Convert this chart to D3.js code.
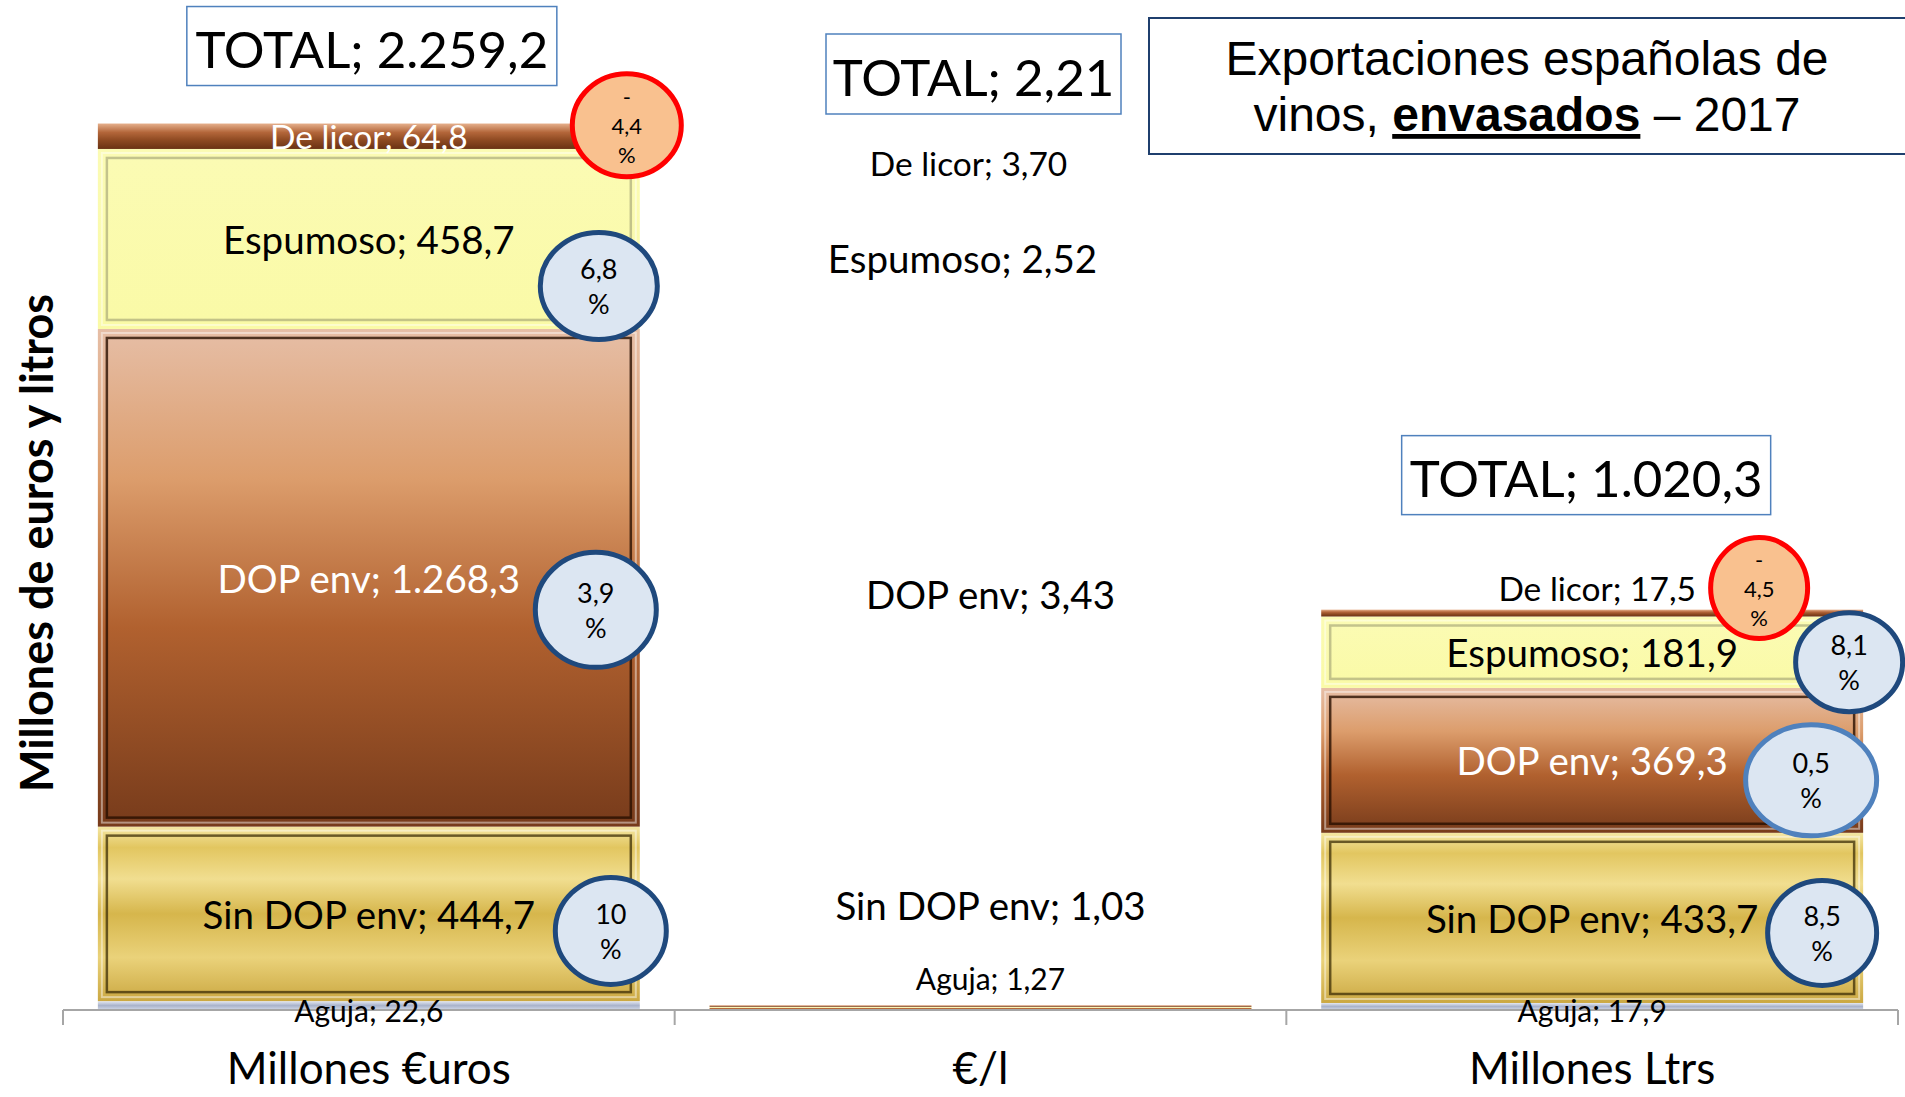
<!DOCTYPE html>
<html>
<head>
<meta charset="utf-8">
<script src="https://cdn.jsdelivr.net/npm/d3@7"></script>
<style>
  body { margin: 0; background: #fff; }
  svg { display: block; font-family: Lato, "Noto Sans", sans-serif; }
</style>
</head>
<body>
<div id="chart"></div>
<script>
// categories on the x axis
var categories = ["Millones €uros", "€/l", "Millones Ltrs"];
// stacked series, bottom to top
var series = ["Aguja", "Sin DOP env", "DOP env", "Espumoso", "De licor"];
var euros  = [22.6, 444.7, 1268.3, 458.7, 64.8];
var precio = [1.27, 1.03, 3.43, 2.52, 3.70];
var litros = [17.9, 433.7, 369.3, 181.9, 17.5];
// printed labels (Spanish number format)
var eurosLabels  = ["22,6", "444,7", "1.268,3", "458,7", "64,8"];
var precioLabels = ["1,27", "1,03", "3,43", "2,52", "3,70"];
var litrosLabels = ["17,9", "433,7", "369,3", "181,9", "17,5"];
var totalLabels  = ["2.259,2", "2,21", "1.020,3"];
// variation vs previous year (%), euros and litres
var varEuros  = ["", "10", "3,9", "6,8", "-4,4"];
var varLitros = ["", "8,5", "0,5", "8,1", "-4,5"];

var width = 1905, height = 1097;

var svg = d3.select("#chart").append("svg")
    .attr("width", width)
    .attr("height", height);

// scales
var x = d3.scaleBand()
    .domain(categories)
    .range([63, 1898])
    .paddingInner(0.114)
    .paddingOuter(0.057);
var xb = d3.scaleBand()
    .domain(categories)
    .range([63, 1898]);
var y = d3.scaleLinear()
    .domain([0, 2500])
    .range([1010, 29]);

var values = [euros, precio, litros];
var labels = [eurosLabels, precioLabels, litrosLabels];

var rows = categories.map(function(c, i) {
  var o = {cat: c};
  series.forEach(function(s, j) { o[s] = values[i][j]; });
  return o;
});
var stack = d3.stack().keys(series)(rows);

// fills
var grads = {
  "Aguja":       [[0, "#e4e8f2"], [0.5, "#a9b3cb"], [1, "#d3d9e8"]],
  "Sin DOP env": [[0, "#f4e6a2"], [0.12, "#e2c660"], [0.3, "#f1de90"], [0.5, "#d6b64c"], [0.75, "#ead27a"], [1, "#cba842"]],
  "DOP env":     [[0, "#e6bea6"], [0.3, "#dc9d6c"], [0.6, "#b1612f"], [1, "#773b1b"]],
  "Espumoso":    [[0, "#fbfbb4"], [1, "#fafaa6"]],
  "De licor":    [[0, "#e6b08c"], [0.35, "#b3663a"], [0.65, "#8e4a22"], [1, "#6a3214"]]
};
var frameCol = {
  "Aguja": null,
  "Sin DOP env": "rgba(60,45,5,0.75)",
  "DOP env": "rgba(40,15,0,0.8)",
  "Espumoso": "rgba(150,150,110,0.55)",
  "De licor": null
};

var defs = svg.append("defs");
series.forEach(function(s, j) {
  var g = defs.append("linearGradient")
      .attr("id", "g" + j)
      .attr("x1", 0).attr("y1", 0).attr("x2", 0).attr("y2", 1);
  grads[s].forEach(function(st) {
    g.append("stop").attr("offset", st[0]).attr("stop-color", st[1]);
  });
});

// bars
var layer = svg.selectAll(".layer")
    .data(stack)
  .enter().append("g")
    .attr("class", "layer");

layer.selectAll("rect")
    .data(function(d) { return d.map(function(p) { return {p: p, key: d.key, j: d.index}; }); })
  .enter().append("rect")
    .attr("x", function(d) { return x(d.p.data.cat); })
    .attr("width", x.bandwidth())
    .attr("y", function(d) { return y(d.p[1]); })
    .attr("height", function(d) { return y(d.p[0]) - y(d.p[1]); })
    .attr("fill", function(d) { return "url(#g" + d.j + ")"; });

// bevel frame inside the big segments
function bigSegs(d) {
  return d.map(function(p) { return {p: p, key: d.key}; })
    .filter(function(e) { return frameCol[e.key] && y(e.p[0]) - y(e.p[1]) > 30; });
}
layer.selectAll(".frame")
    .data(bigSegs)
  .enter().append("rect")
    .attr("x", function(d) { return x(d.p.data.cat) + 9; })
    .attr("width", x.bandwidth() - 18)
    .attr("y", function(d) { return y(d.p[1]) + 9; })
    .attr("height", function(d) { return y(d.p[0]) - y(d.p[1]) - 18; })
    .attr("fill", "none")
    .attr("stroke", function(d) { return frameCol[d.key]; })
    .attr("stroke-width", 2.5);

layer.selectAll(".hl")
    .data(bigSegs)
  .enter().append("rect")
    .attr("x", function(d) { return x(d.p.data.cat) + 4; })
    .attr("width", x.bandwidth() - 8)
    .attr("y", function(d) { return y(d.p[1]) + 4; })
    .attr("height", function(d) { return y(d.p[0]) - y(d.p[1]) - 8; })
    .attr("fill", "none")
    .attr("stroke", "rgba(255,255,255,0.45)")
    .attr("stroke-width", 2);

// x axis
var axisY = y(0);
svg.append("line")
    .attr("x1", xb.range()[0]).attr("x2", xb.range()[1])
    .attr("y1", axisY).attr("y2", axisY)
    .attr("stroke", "#a6a6a6").attr("stroke-width", 2);
var bounds = categories.map(function(c) { return xb(c); }).concat([xb.range()[1]]);
svg.selectAll(".tick")
    .data(bounds)
  .enter().append("line")
    .attr("x1", function(d) { return d; }).attr("x2", function(d) { return d; })
    .attr("y1", axisY).attr("y2", axisY + 15)
    .attr("stroke", "#a6a6a6").attr("stroke-width", 2);
svg.selectAll(".cat")
    .data(categories)
  .enter().append("text")
    .attr("x", function(d) { return xb(d) + xb.bandwidth() / 2; })
    .attr("y", 1084)
    .attr("text-anchor", "middle")
    .attr("font-size", 44)
    .text(function(d) { return d; });

// y axis title
svg.append("text")
    .attr("transform", "translate(36,543) rotate(-90)")
    .attr("text-anchor", "middle")
    .attr("dominant-baseline", "central")
    .attr("font-size", 45)
    .attr("font-weight", 700)
    .text("Millones de euros y litros");

// segment labels
var fontOf = [30, 38.5, 38.5, 38.5, 33.5];
// middle column labels follow the euros segments with a nudge
var midDy = [-28, -9, 16, 19, 27];
var midDx = [10, 10, 10, -18, -12];
var whiteLab = [[false, false, true, false, true], [false, false, false, false, false], [false, false, true, false, false]];

var segLabels = [];
stack.forEach(function(layerData, j) {
  layerData.forEach(function(p, i) {
    var cx = x(categories[i]) + x.bandwidth() / 2;
    var cy = y((p[0] + p[1]) / 2);
    if (i === 1) {
      var pe = stack[j][0];
      cy = y((pe[0] + pe[1]) / 2) + midDy[j];
      cx += midDx[j];
    }
    if (i === 2 && j === 4) { cy -= 25; cx += 5; }
    if (j === 0 && i !== 1) { cy = y(0); }
    segLabels.push({
      x: cx, y: cy,
      text: series[j] + "; " + labels[i][j],
      size: fontOf[j],
      fill: whiteLab[i][j] ? "#ffffff" : "#000000"
    });
  });
});

svg.selectAll(".seglab")
    .data(segLabels)
  .enter().append("text")
    .attr("x", function(d) { return d.x; })
    .attr("y", function(d) { return d.y; })
    .attr("text-anchor", "middle")
    .attr("dominant-baseline", "central")
    .attr("font-size", function(d) { return d.size; })
    .attr("fill", function(d) { return d.fill; })
    .text(function(d) { return d.text; });

// total boxes
var totalBoxes = [
  {dx: 3, top: -117, w: 370, h: 79},
  {dx: -7, top: null, w: 295, h: 80},
  {dx: -6, top: -174, w: 369, h: 79}
];
totalBoxes.forEach(function(b, i) {
  var cx = x(categories[i]) + x.bandwidth() / 2 + b.dx;
  var sum = d3.sum(values[i]);
  var yTop = b.top === null ? 34 : y(sum) + b.top;
  var g = svg.append("g");
  g.append("rect")
      .attr("x", cx - b.w / 2).attr("y", yTop)
      .attr("width", b.w).attr("height", b.h)
      .attr("fill", "#fff")
      .attr("stroke", "#4f81bd").attr("stroke-width", 1.5);
  g.append("text")
      .attr("x", cx).attr("y", yTop + b.h / 2 + 2)
      .attr("text-anchor", "middle")
      .attr("dominant-baseline", "central")
      .attr("font-size", 51)
      .text("TOTAL; " + totalLabels[i]);
});

// variation bubbles: [category, series, dx from bar right, dy from segment middle, rx, ry]
var bubbles = [
  [0, 4, -13, -11, 57, 54],
  [0, 3, -41, 47, 61, 56],
  [0, 2, -44, 32, 63, 60],
  [0, 1, -29, 17, 58, 56],
  [2, 4, -104, -25, 51, 53],
  [2, 3, -14, 10, 56, 52],
  [2, 2, -52, 20, 68, 58],
  [2, 1, -41, 15, 57, 55]
];
bubbles.forEach(function(b) {
  var i = b[0], j = b[1];
  var p = stack[j][i];
  var txt = (i === 0 ? varEuros : varLitros)[j];
  var neg = txt.charAt(0) === "-";
  var cx = x(categories[i]) + x.bandwidth() + b[2];
  var cy = y((p[0] + p[1]) / 2) + b[3];
  var stroke = neg ? "#ff0000" : (i === 2 && j === 2 ? "#4f81bd" : "#1f497d");
  var g = svg.append("g");
  g.append("ellipse")
      .attr("cx", cx).attr("cy", cy)
      .attr("rx", b[4] - 2.5).attr("ry", b[5] - 2.5)
      .attr("fill", neg ? "#f9c18f" : "#dce6f2")
      .attr("stroke", stroke)
      .attr("stroke-width", 5);
  var lines = neg ? ["-", txt.slice(1), "%"] : [txt, "%"];
  var step = neg ? 29 : 35;
  var fs = neg ? 22 : 27;
  lines.forEach(function(l, k) {
    g.append("text")
        .attr("x", cx)
        .attr("y", cy + (k - (lines.length - 1) / 2) * step)
        .attr("text-anchor", "middle")
        .attr("dominant-baseline", "central")
        .attr("font-size", fs)
        .text(l);
  });
});

// title box
var tg = svg.append("g");
tg.append("rect")
    .attr("x", 1149).attr("y", 18)
    .attr("width", 770).attr("height", 136)
    .attr("fill", "#fff")
    .attr("stroke", "#1f3f6d").attr("stroke-width", 2);
tg.append("text")
    .attr("x", 1527).attr("y", 75)
    .attr("text-anchor", "middle")
    .style("font-family", "'Liberation Sans', Arial, sans-serif")
    .attr("font-size", 48)
    .text("Exportaciones españolas de");
var t2 = tg.append("text")
    .attr("x", 1527).attr("y", 131)
    .attr("text-anchor", "middle")
    .style("font-family", "'Liberation Sans', Arial, sans-serif")
    .attr("font-size", 48);
t2.append("tspan").text("vinos, ");
t2.append("tspan").attr("font-weight", 700).attr("text-decoration", "underline").text("envasados");
t2.append("tspan").text(" – 2017");
</script>
</body>
</html>
